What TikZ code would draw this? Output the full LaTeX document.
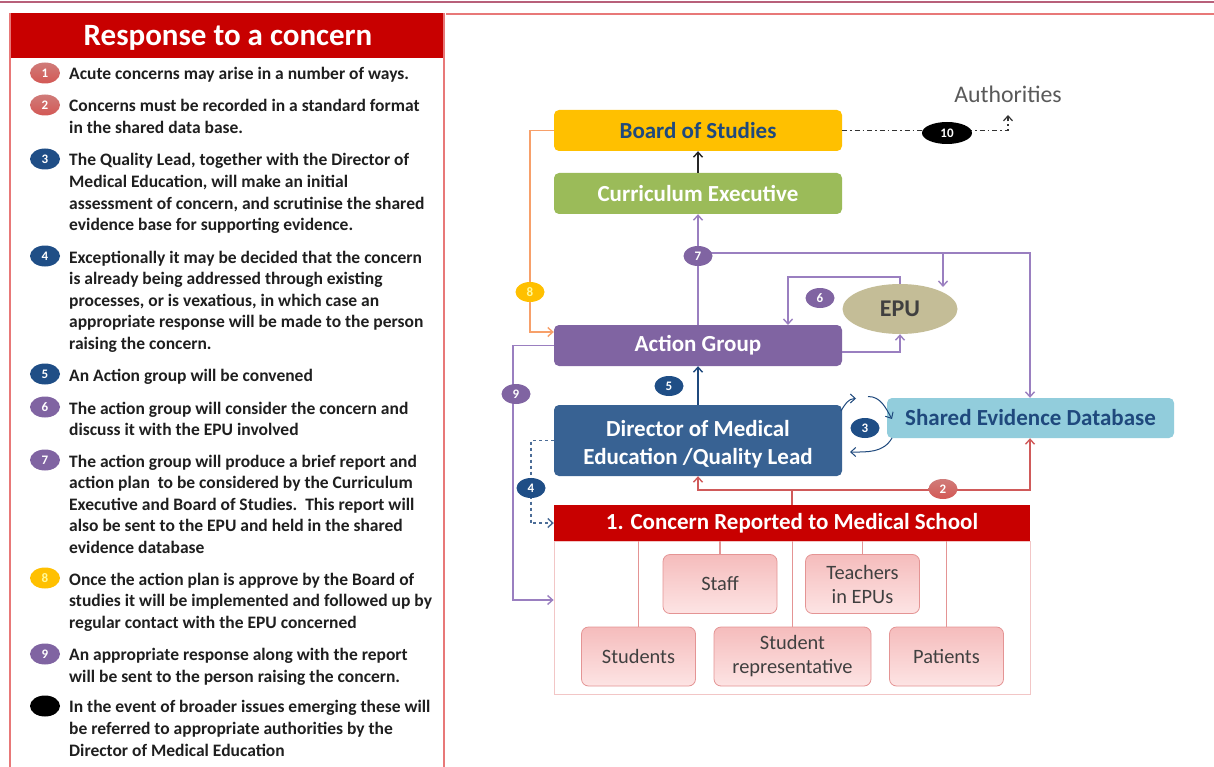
\documentclass[tikz,border=0pt]{standalone}
\usepackage{fontspec}
\setmainfont{Carlito}
\usetikzlibrary{shapes.geometric,arrows.meta,calc}
\definecolor{topM}{HTML}{B8607A}
\definecolor{panelR}{HTML}{E87878}
\definecolor{hdred}{HTML}{C80000}
\definecolor{bosY}{HTML}{FFC000}
\definecolor{ceG}{HTML}{9BBB59}
\definecolor{agP}{HTML}{8064A2}
\definecolor{dmB}{HTML}{386293}
\definecolor{sedC}{HTML}{92CDDC}
\definecolor{epuT}{HTML}{C4BD97}
\definecolor{navy}{HTML}{1F497D}
\definecolor{lineP}{HTML}{9A7FC0}
\definecolor{lineO}{HTML}{F7A06A}
\definecolor{lineR}{HTML}{D05A5A}
\definecolor{pinkT}{HTML}{F5BCBC}
\definecolor{pinkF}{HTML}{FDE4E4}
\definecolor{pinkB}{HTML}{E49494}
\definecolor{contB}{HTML}{F2C6C6}
\definecolor{badR}{HTML}{C0504D}
\definecolor{badB}{HTML}{1F4E86}
\definecolor{badP}{HTML}{8064A2}
\definecolor{txtG}{HTML}{404040}
\definecolor{authG}{HTML}{595959}
\tikzset{
  mainbox/.style={rounded corners=5pt, minimum width=288pt, minimum height=41pt, inner sep=0pt, align=center, font=\fontsize{23}{28}\selectfont\bfseries},
  bdg/.style={ellipse, minimum width=29pt, minimum height=20pt, inner sep=0pt, font=\fontsize{13}{14}\selectfont\bfseries, text=white},
  lbdg/.style={ellipse, minimum width=30pt, minimum height=21pt, inner sep=0pt, font=\fontsize{13}{14}\selectfont\bfseries, text=white},
  item/.style={anchor=north west, inner sep=0pt, align=left, text=black!88, font=\fontsize{17.5}{21.6}\selectfont\bfseries},
  srcbox/.style={rounded corners=7pt, draw=pinkB, line width=0.8pt, top color=pinkT, bottom color=pinkF, minimum width=114pt, minimum height=59pt, align=center, text=txtG, font=\fontsize{20.4}{24}\selectfont, inner sep=0pt},
  tip/.style={-{Straight Barb[length=5pt,width=9pt]}},
  pl/.style={draw=lineP, line width=1.4pt},
}
\begin{document}
\begin{tikzpicture}[x=1pt,y=-1pt]
\useasboundingbox (0,0) rectangle (1214,767);
\fill[white] (0,0) rectangle (1214,767);
% frame lines
\draw[topM, line width=2.5pt] (0,2) -- (1214,2);
\draw[panelR, line width=1.3pt] (446,14) -- (1214,14);
\draw[panelR, line width=1.5pt] (10,14) rectangle (444,780);
\fill[hdred] (10.7,13.5) rectangle (443.3,58);
\node[text=white, font=\fontsize{31}{34}\selectfont\bfseries] (title) at (228,38) {Response to a concern};

% left panel items
\node[lbdg, top color=badR!75, bottom color=badR!110!black] (b1) at (45,73) {1};
\node[item] (t1) at (69,67.5) {Acute concerns may arise in a number of ways.};
\node[lbdg, top color=badR!75, bottom color=badR!110!black] (b2) at (45,105) {2};
\node[item] (t2) at (69,99.5) {Concerns must be recorded in a standard format\\in the shared data base.};
\node[lbdg, fill=badB] (b3) at (45,159) {3};
\node[item] (t3) at (69,153.5) {The Quality Lead, together with the Director of\\Medical Education, will make an initial\\assessment of concern, and scrutinise the shared\\evidence base for supporting evidence.};
\node[lbdg, fill=badB] (b4) at (45,256) {4};
\node[item] (t4) at (69,250.5) {Exceptionally it may be decided that the concern\\is already being addressed through existing\\processes, or is vexatious, in which case an\\appropriate response will be made to the person\\raising the concern.};
\node[lbdg, fill=badB] (b5) at (45,374) {5};
\node[item] (t5) at (69,368.5) {An Action group will be convened};
\node[lbdg, fill=badP] (b6) at (45,407) {6};
\node[item] (t6) at (69,401.5) {The action group will consider the concern and\\discuss it with the EPU involved};
\node[lbdg, fill=badP] (b7) at (45,460) {7};
\node[item] (t7) at (69,454.5) {The action group will produce a brief report and\\action plan\ \ to be considered by the Curriculum\\Executive and Board of Studies.\ \ This report will\\also be sent to the EPU and held in the shared\\evidence database};
\node[lbdg, fill=bosY, text=yellow!40] (b8) at (45,578) {8};
\node[item] (t8) at (69,572.5) {Once the action plan is approve by the Board of\\studies it will be implemented and followed up by\\regular contact with the EPU concerned};
\node[lbdg, fill=badP] (b9) at (45,654) {9};
\node[item] (t9) at (69,648.5) {An appropriate response along with the report\\will be sent to the person raising the concern.};
\node[lbdg, fill=black] (b10) at (45,706) {};
\node[item] (t10) at (69,700.5) {In the event of broader issues emerging these will\\be referred to appropriate authorities by the\\Director of Medical Education};

% main diagram nodes
\node[mainbox, fill=bosY, text=navy] (bos) at (698,130.5) {Board of Studies};
\node[mainbox, fill=ceG, text=white] (ce) at (698,193.5) {Curriculum Executive};
\node[mainbox, fill=agP, text=white] (ag) at (698,345.5) {Action Group};
\node[mainbox, fill=dmB, text=white, minimum height=71pt] (dme) at (698,440.5) {\rule{0pt}{23pt}Director of Medical\\Education /Quality Lead};
\node[mainbox, fill=sedC, text=navy, minimum width=287pt, minimum height=40pt] (sed) at (1030.5,418) {Shared Evidence Database};
\node[ellipse, fill=epuT, minimum width=115pt, minimum height=50pt, inner sep=0pt, text=txtG, font=\fontsize{24}{28}\selectfont\bfseries] (epu) at (900,309) {EPU};
\node[text=authG, font=\fontsize{23.8}{28}\selectfont] (auth) at (1008,94) {Authorities};
\coordinate (authpt) at (1008,115);

% concern area
\node[draw=contB, line width=0.8pt, minimum width=476pt, minimum height=153pt, inner sep=0pt] (cont) at (792,617.5) {};
\node[fill=hdred, minimum width=476pt, minimum height=36pt, inner sep=0pt, text=white, font=\fontsize{23}{28}\selectfont\bfseries] (crh) at (792,523) {1. Concern Reported to Medical School};
\node[srcbox] (staff) at (720,584) {Staff};
\node[srcbox] (teach) at (862.5,584) {Teachers\\in EPUs};
\node[srcbox] (stud) at (638.5,656.5) {Students};
\node[srcbox, minimum width=157pt] (rep) at (792.5,656.5) {Student\\representative};
\node[srcbox] (pat) at (946.5,656.5) {Patients};
\foreach \b in {staff,teach,stud,rep,pat}
  \draw[pinkB, line width=1.2pt] (crh.south -| \b.north) -- (\b.north);

% Board -> Authorities (10)
\draw[black!80, line width=1.2pt, dash pattern=on 5pt off 3pt on 1.5pt off 3pt, tip] (bos.east) -- (bos.east -| authpt) -- (authpt);
\node[bdg, fill=black, minimum width=50pt, minimum height=22pt] (b10d) at (947,133) {10};

% CE -> BoS
\draw[black!85, line width=1.4pt, tip] (ce.north) -- (bos.south);

% 7: AG -> CE, EPU, SED
\coordinate (j7) at (698,253);
\draw[pl, tip] (ag.north) -- (ce.south);
\draw[pl, tip] (j7) -| (sed.north -| 1030,0);
\draw[pl, tip] (j7 -| 943,0) -- (943,287);
\node[bdg, fill=badP] (b7d) at (698,256) {7};

% 6: EPU -> AG ; AG -> EPU
\draw[pl, tip] (epu.north) -- ++(0,-7) -| (788,325);
\draw[pl, tip] ($(ag.east)+(0,6.5)$) -| (epu.south);
\node[bdg, fill=badP] (b6d) at (820,298) {6};

% 8: BoS -> AG (orange)
\draw[lineO, line width=1.4pt, tip] (bos.west) -- ++(-24,0) |- ($(ag.west)+(0,-13.5)$);
\node[bdg, fill=bosY, text=yellow!40] (b8d) at (530,292) {8};

% 9: AG -> concern (purple)
\draw[pl, tip] (ag.west) -- ++(-41,0) |- (cont.west |- 0,600);
\node[bdg, fill=badP] (b9d) at (516,394) {9};

% 5: DME -> AG
\draw[navy, line width=1.4pt, tip] (dme.north) -- (ag.south);
\node[bdg, fill=badB] (b5d) at (669,386) {5};

% 4: DME -> concern dashed
\draw[navy!80, line width=1.4pt, dashed, tip] (dme.west) -- ++(-23,0) |- (crh.west);
\node[bdg, fill=badB] (b4d) at (531,488) {4};

% 2: concern -> DME and SED
\coordinate (j2) at (792,490);
\draw[lineR, line width=1.4pt] (crh.north) -- (j2);
\draw[lineR, line width=1.4pt, tip] (j2) -| (dme.south);
\draw[lineR, line width=1.4pt, tip] (j2) -| (sed.south -| 1030,0);
\node[bdg, top color=badR!75, bottom color=badR!110!black] (b2d) at (943,489) {2};

% 3: DME <-> SED curved
\draw[navy, line width=1pt, tip] (841,411) to[out=60, in=180] (856,398.5);
\draw[navy, line width=1pt, tip] (868,396.5) to[out=0, in=120] (892,419);
\draw[navy, line width=1pt, tip] (892,438) to[out=240, in=0] (850,452);
\node[bdg, fill=badB] (b3d) at (865,428) {3};
\end{tikzpicture}
\end{document}
